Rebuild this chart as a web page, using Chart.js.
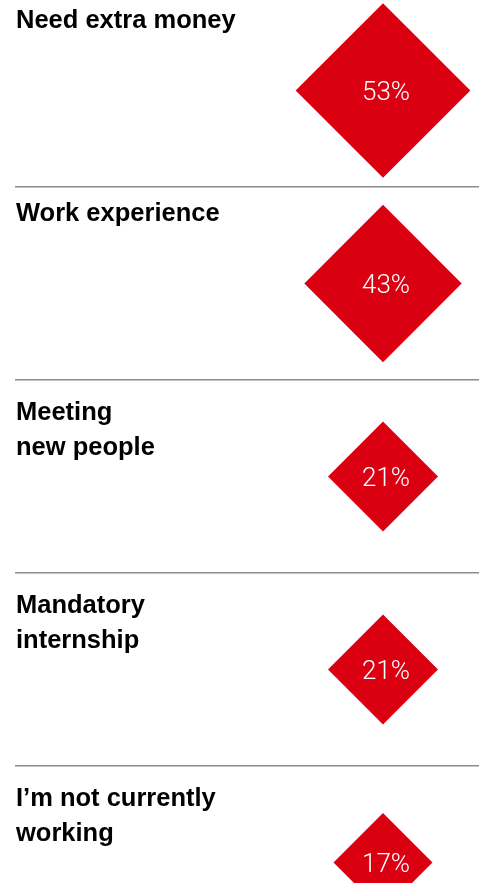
<!DOCTYPE html>
<html>
<head>
<meta charset="utf-8">
<script src="https://cdn.jsdelivr.net/npm/chart.js@4/dist/chart.umd.min.js"></script>
<style>
  html, body { margin: 0; padding: 0; background: #fff; overflow: hidden; }
  #wrap { position: relative; width: 487px; height: 965px; margin-top: -6px; }
</style>
</head>
<body>
<div id="wrap"><canvas id="chart"></canvas></div>
<script>
// reasons, one row each ("\n" marks the line break)
const categories = [
  "Need extra money",
  "Work experience",
  "Meeting\nnew people",
  "Mandatory\ninternship",
  "I’m not currently\nworking"
];
// share of respondents, %
const shares = [53, 43, 21, 21, 17];
const column = ["Share"];

const RED = "#da0012";
const RULE = "#8c8c8c";

// diamond area follows the value
const diamondRadius = v => 12 * Math.sqrt(v);

const rowLabels = {
  id: "rowLabels",
  afterDatasetsDraw(chart) {
    const { ctx, scales: { y } } = chart;
    const band = y.getPixelForValue(1) - y.getPixelForValue(0);
    ctx.save();
    ctx.fillStyle = "#000";
    ctx.font = "bold 25.5px 'Liberation Sans', Arial, sans-serif";
    ctx.textAlign = "left";
    ctx.textBaseline = "alphabetic";
    categories.forEach((label, i) => {
      const lines = label.split("\n");
      const top = y.getPixelForValue(i) - band / 2;
      const first = lines.length > 1 ? 40 : 34;
      lines.forEach((line, k) => ctx.fillText(line, y.left + 1, top + first + k * 34.5));
    });
    ctx.restore();
  }
};

const valueLabels = {
  id: "valueLabels",
  afterDatasetsDraw(chart) {
    const { ctx } = chart;
    const meta = chart.getDatasetMeta(0);
    ctx.save();
    ctx.fillStyle = "#fff";
    ctx.font = "300 26px Roboto, 'Liberation Sans', sans-serif";
    ctx.textAlign = "center";
    ctx.textBaseline = "middle";
    meta.data.forEach((pt, i) => ctx.fillText(shares[i] + "%", pt.x + 3, pt.y + 3));
    ctx.restore();
  }
};

new Chart(document.getElementById("chart"), {
  type: "line",
  data: {
    labels: column,
    datasets: [{
      data: categories.map(c => ({ x: column[0], y: c })),
      showLine: false,
      clip: false,
      pointStyle: "rectRot",
      pointRadius: ctx => diamondRadius(shares[ctx.dataIndex]),
      pointHoverRadius: ctx => diamondRadius(shares[ctx.dataIndex]),
      pointBackgroundColor: RED,
      pointBorderWidth: 0
    }]
  },
  options: {
    responsive: true,
    maintainAspectRatio: false,
    animation: false,
    events: [],
    layout: { autoPadding: false, padding: { left: 15, right: 8, top: 0, bottom: 0 } },
    plugins: { legend: { display: false }, tooltip: { enabled: false } },
    scales: {
      x: { type: "category", labels: column, offset: true, display: false },
      y: {
        type: "category",
        labels: categories,
        offset: true,
        border: { display: false },
        ticks: { display: false },
        grid: {
          offset: true,
          drawTicks: true,
          tickLength: 272,
          lineWidth: 1.5,
          color: ctx => ctx.index === 0 ? "rgba(0,0,0,0)" : RULE
        }
      }
    }
  },
  plugins: [rowLabels, valueLabels]
});
</script>
</body>
</html>
